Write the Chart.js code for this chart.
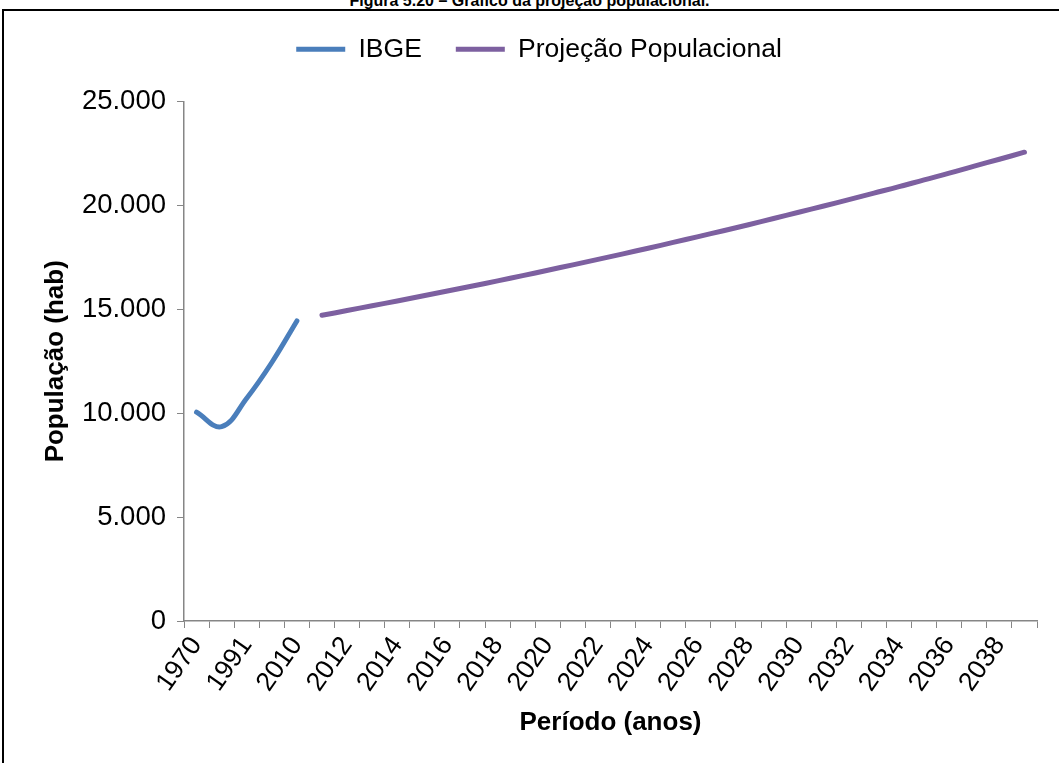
<!DOCTYPE html>
<html lang="pt-BR">
<head>
  <meta charset="UTF-8"/>
  <title>Figura 5.20 – Gráfico da projeção populacional</title>
  <script src="https://cdn.jsdelivr.net/npm/chart.js@4"></script>
  <style>
    body{margin:0;padding:0;background:#fff;overflow:hidden;font-family:'Liberation Sans',Arial,sans-serif;}
    .caption{position:absolute;left:0;top:-7px;width:1059px;text-align:center;font-weight:bold;font-size:16px;line-height:16px;color:#000;}
    .frame{position:absolute;left:2px;top:9px;width:1100px;height:800px;border:2px solid #000;}
    #wrap{position:absolute;left:0;top:0;width:1059px;height:763px;}
  </style>
</head>
<body>
<div class="caption">Figura 5.20 – Gráfico da projeção populacional.</div>
<div class="frame"></div>
<div id="wrap"><canvas id="popChart" width="1059" height="763"></canvas></div>

<script>
  // categories (IBGE census years, then yearly projection)
  const categories = ['1970','1980','1991','2000','2010',
    '2011','2012','2013','2014','2015','2016','2017','2018','2019','2020',
    '2021','2022','2023','2024','2025','2026','2027','2028','2029','2030',
    '2031','2032','2033','2034','2035','2036','2037','2038','2039'];

  // IBGE counts, 1970-2010
  const ibgeValues = [10050, 9350, 10720, 12440, 14440];

  // projection, 2011-2039
  const projValues = [14710, 14940, 15170, 15400, 15640, 15880, 16120, 16370, 16620, 16880,
    17140, 17400, 17670, 17940, 18220, 18500, 18780, 19070, 19370, 19670,
    19970, 20280, 20590, 20900, 21230, 21550, 21890, 22220, 22560];

  const yTicks = [0, 5000, 10000, 15000, 20000, 25000];

  const pad = n => Array(n).fill(null);
  const ibgeData = ibgeValues.concat(pad(categories.length - ibgeValues.length));
  const projData = pad(categories.length - projValues.length).concat(projValues);

  const FONT = "'Liberation Sans', Arial, sans-serif";
  const fmt = v => String(v).replace(/\B(?=(\d{3})+(?!\d))/g, '.');

  // empty box between legend and plot
  const legendGap = {
    id: 'legendGap',
    beforeInit(chart) {
      if (!Chart.layouts) return;
      Chart.layouts.addBox(chart, {
        position: 'top', weight: 0, fullSize: true, options: {},
        left: 0, top: 0, right: 0, bottom: 0, width: 0, height: 0,
        isHorizontal() { return true; },
        update(maxWidth) { this.width = maxWidth; this.height = 29; },
        draw() {}
      });
    }
  };

  new Chart(document.getElementById('popChart'), {
    type: 'line',
    data: {
      labels: categories,
      datasets: [
        {label: 'IBGE', data: ibgeData, borderColor: '#4a7ebb', backgroundColor: '#4a7ebb',
         borderWidth: 5, pointRadius: 0, tension: 0.4, borderCapStyle: 'round', borderJoinStyle: 'round', spanGaps: false},
        {label: 'Projeção Populacional', data: projData, borderColor: '#7d60a0', backgroundColor: '#7d60a0',
         borderWidth: 5, pointRadius: 0, tension: 0.4, borderCapStyle: 'round', borderJoinStyle: 'round', spanGaps: false}
      ]
    },
    plugins: [legendGap],
    options: {
      responsive: false,
      animation: false,
      layout: {padding: {top: 2, left: 41, right: 22, bottom: 0}},
      plugins: {
        legend: {
          position: 'top',
          labels: {
            usePointStyle: true, pointStyle: 'line', pointStyleWidth: 49,
            padding: 34, color: '#000', font: {family: FONT, size: 26.5}
          }
        },
        tooltip: {enabled: false}
      },
      scales: {
        x: {
          offset: true,
          grid: {offset: true, drawOnChartArea: false, drawTicks: true, tickLength: 7, color: '#868686'},
          border: {color: '#868686', width: 1.5},
          ticks: {
            autoSkip: false, minRotation: 55, maxRotation: 55, padding: 3,
            color: '#000', font: {family: FONT, size: 26.5},
            callback: (v, i) => i % 2 === 0 ? categories[i] : ''
          },
          title: {display: true, text: 'Período (anos)', color: '#000',
                  font: {family: FONT, size: 26, weight: 'bold', lineHeight: 1}, padding: {top: 0, bottom: 27}},
          afterFit: s => { s.height = 142; }
        },
        y: {
          min: 0, max: 25000,
          afterBuildTicks: s => { s.ticks = yTicks.map(v => ({value: v})); },
          grid: {drawOnChartArea: false, drawTicks: true, tickLength: 7, color: '#868686'},
          border: {color: '#868686', width: 1.5},
          ticks: {padding: 11, color: '#000', font: {family: FONT, size: 27.5}, callback: v => fmt(v)},
          title: {display: true, text: 'População (hab)', color: '#000',
                  font: {family: FONT, size: 26, weight: 'bold', lineHeight: 1}, padding: {top: 2, bottom: 0}},
          afterFit: s => { s.width = 143; }
        }
      }
    }
  });
</script>
</body>
</html>
